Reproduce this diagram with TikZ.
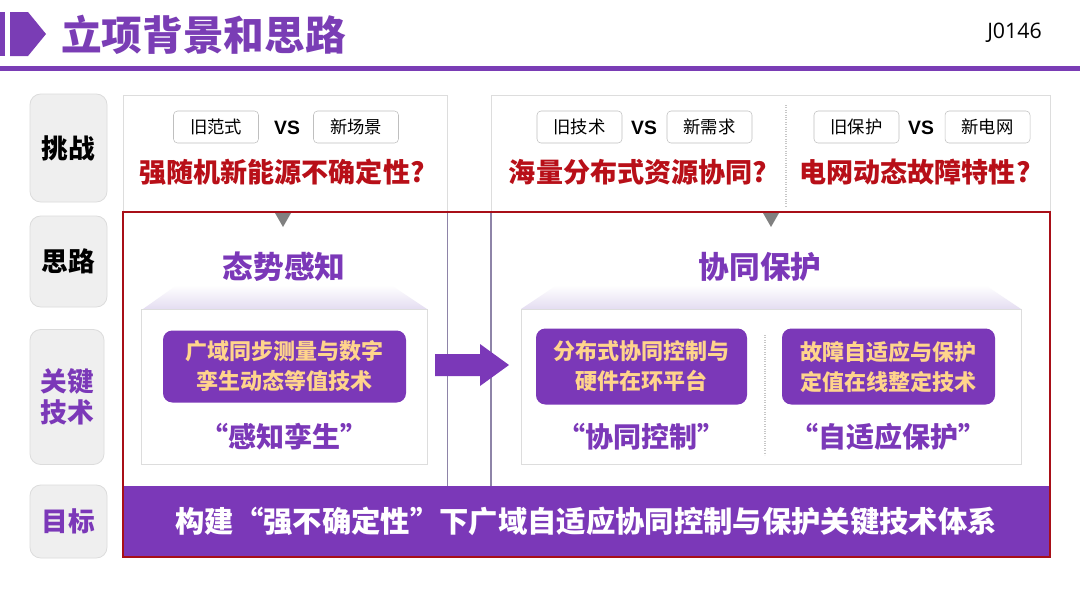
\documentclass[tikz,border=0pt]{standalone}
\usepackage{fontspec}
\setmainfont{Noto Sans CJK SC}
\newfontfamily\latfont{Liberation Sans}
\newfontfamily\idfont{Open Sans}
\definecolor{pur}{HTML}{7B38B8}
\definecolor{titlepur}{HTML}{7A3DB5}
\definecolor{redtxt}{HTML}{B80F18}
\definecolor{redbd}{HTML}{A80F18}
\definecolor{keytxt}{HTML}{FFD48C}
\definecolor{lblfill}{HTML}{EFEFEF}
\definecolor{lbldraw}{HTML}{DCDCDC}
\definecolor{panelbd}{HTML}{DDDDDD}
\definecolor{lav}{HTML}{E4DDF1}
\definecolor{sideln}{HTML}{8E84A8}
\tikzset{
  lblbox/.style={draw=lbldraw, fill=lblfill, rounded corners=8pt, line width=0.6pt},
  lbltxt/.style={font=\fontsize{20}{24}\selectfont\bfseries, align=center},
  smallbox/.style={draw=black!25, fill=white, rounded corners=3pt, minimum width=63.75pt, minimum height=24pt, inner sep=0pt, font=\fontsize{13}{15}\selectfont},
  vstxt/.style={font=\latfont\fontsize{14.5}{16}\selectfont\bfseries},
  redq/.style={text=redtxt, font=\fontsize{20.3}{22}\selectfont\bfseries},
  headtxt/.style={text=pur, font=\fontsize{23}{26}\selectfont\bfseries},
  keybox/.style={fill=pur, rounded corners=7pt, text=keytxt, align=center, font=\fontsize{16.5}{22.5}\selectfont\bfseries, inner sep=0pt},
  quotetxt/.style={text=pur, font=\fontsize{21}{24}\selectfont\bfseries},
  panel/.style={draw=panelbd, fill=white, line width=0.6pt},
  tri/.style={fill=black!50, draw=none}
}
\begin{document}
\begin{tikzpicture}[x=0.75pt, y=-0.75pt]
\useasboundingbox (0,0) rectangle (1080,607);
\fill[white] (0,0) rectangle (1080,607);
% header
\fill[titlepur] (0,12) rectangle (5,56);
\fill[titlepur] (10,12) -- (28,12) -- (46,34) -- (28,56) -- (10,56) -- cycle;
\node[anchor=west, text=titlepur, font=\fontsize{30.5}{32}\selectfont\bfseries, inner sep=0pt] (title) at (61,35) {立项背景和思路};
\node[anchor=east, font=\idfont\fontsize{16}{18}\selectfont, inner sep=0pt] (code) at (1042,33) {J0146};
\fill[titlepur] (0,66) rectangle (1080,71);
% label column
\node[lblbox, minimum width=57.75pt, minimum height=81pt] (l1) at (68.5,148) {};
\node[lbltxt] (l1t) at (l1) {挑战};
\node[lblbox, minimum width=57.75pt, minimum height=68.25pt] (l2) at (68.5,261.5) {};
\node[lbltxt] (l2t) at (l2) {思路};
\node[lblbox, minimum width=55.5pt, minimum height=101.25pt] (l3) at (67,397) {};
\node[lbltxt, text=pur, font=\fontsize{20}{23}\selectfont\bfseries] (l3t) at (l3) {关键\\技术};
\node[lblbox, minimum width=57.75pt, minimum height=54.75pt] (l4) at (68.5,521.5) {};
\node[lbltxt, text=pur] (l4t) at (l4) {目标};
% panels
\draw[panel] (123,95) rectangle (447,486);
\draw[panel] (491,95) rectangle (1050,486);
\draw[sideln, line width=0.8pt] (447.5,212) -- (447.5,486);
\draw[sideln, line width=0.8pt] (491,212) -- (491,486);
% top row left
\node[smallbox] (a1) at (216,127) {旧范式};
\node[vstxt] (vs1) at (287,128) {VS};
\node[smallbox] (a2) at (356,127) {新场景};
\node[redq] (q1) at (282,172) {强随机新能源不确定性?};
% top row right
\draw[black!22, densely dotted, line width=0.8pt] (786,105) -- (786,208);
\node[smallbox] (b1) at (579.5,127) {旧技术};
\node[vstxt] (vs2) at (644,128) {VS};
\node[smallbox] (b2) at (709.5,127) {新需求};
\node[redq] (q2) at (638,172) {海量分布式资源协同?};
\node[smallbox] (c1) at (856.5,127) {旧保护};
\node[vstxt] (vs3) at (921,128) {VS};
\node[smallbox] (c2) at (987.5,127) {新电网};
\node[redq] (q3) at (915,172) {电网动态故障特性?};
% triangles
\fill[tri] (275,213) -- (291,213) -- (283,227) -- cycle;
\fill[tri] (763,213) -- (779,213) -- (771,227) -- cycle;
% headings
\node[headtxt] (h1) at (284,267) {态势感知};
\node[headtxt] (h2) at (760,267) {协同保护};
% trapezoids
\shade[top color=white, bottom color=lav] (143,309) -- (177,285) -- (391,285) -- (427,309) -- cycle;
\shade[top color=white, bottom color=lav] (521,309) -- (557,285) -- (985,285) -- (1021,309) -- cycle;
% inner boxes
\draw[panel] (141,309) rectangle (427,464);
\draw[panel] (521,309) rectangle (1021,464);
\draw[black!22, densely dotted, line width=0.8pt] (765,335) -- (765,455);
% key boxes
\node[keybox, minimum width=182.25pt, minimum height=54pt] (k1) at (284.5,366.5) {广域同步测量与数字\\孪生动态等值技术};
\node[keybox, minimum width=158.25pt, minimum height=57pt] (k2) at (641.5,366.5) {分布式协同控制与\\硬件在环平台};
\node[keybox, minimum width=159.75pt, minimum height=57pt] (k3) at (888.5,366.5) {故障自适应与保护\\定值在线整定技术};
% quotes
\node[quotetxt] (s1) at (284,437) {“感知孪生”};
\node[quotetxt] (s2) at (641,437) {“协同控制”};
\node[quotetxt] (s3) at (888,437) {“自适应保护”};
% arrow
\fill[pur] (435,354) -- (480,354) -- (480,344) -- (509,365) -- (480,386) -- (480,376) -- (435,376) -- cycle;
% bottom bar
\fill[pur] (123,486) rectangle (1050,556);
\node[text=white, font=\fontsize{22}{24}\selectfont\bfseries] (goal) at (586,521) {构建“强不确定性”下广域自适应协同控制与保护关键技术体系};
% red frame
\draw[redbd, line width=2pt] (123,212) rectangle (1050,557);
\end{tikzpicture}
\end{document}
